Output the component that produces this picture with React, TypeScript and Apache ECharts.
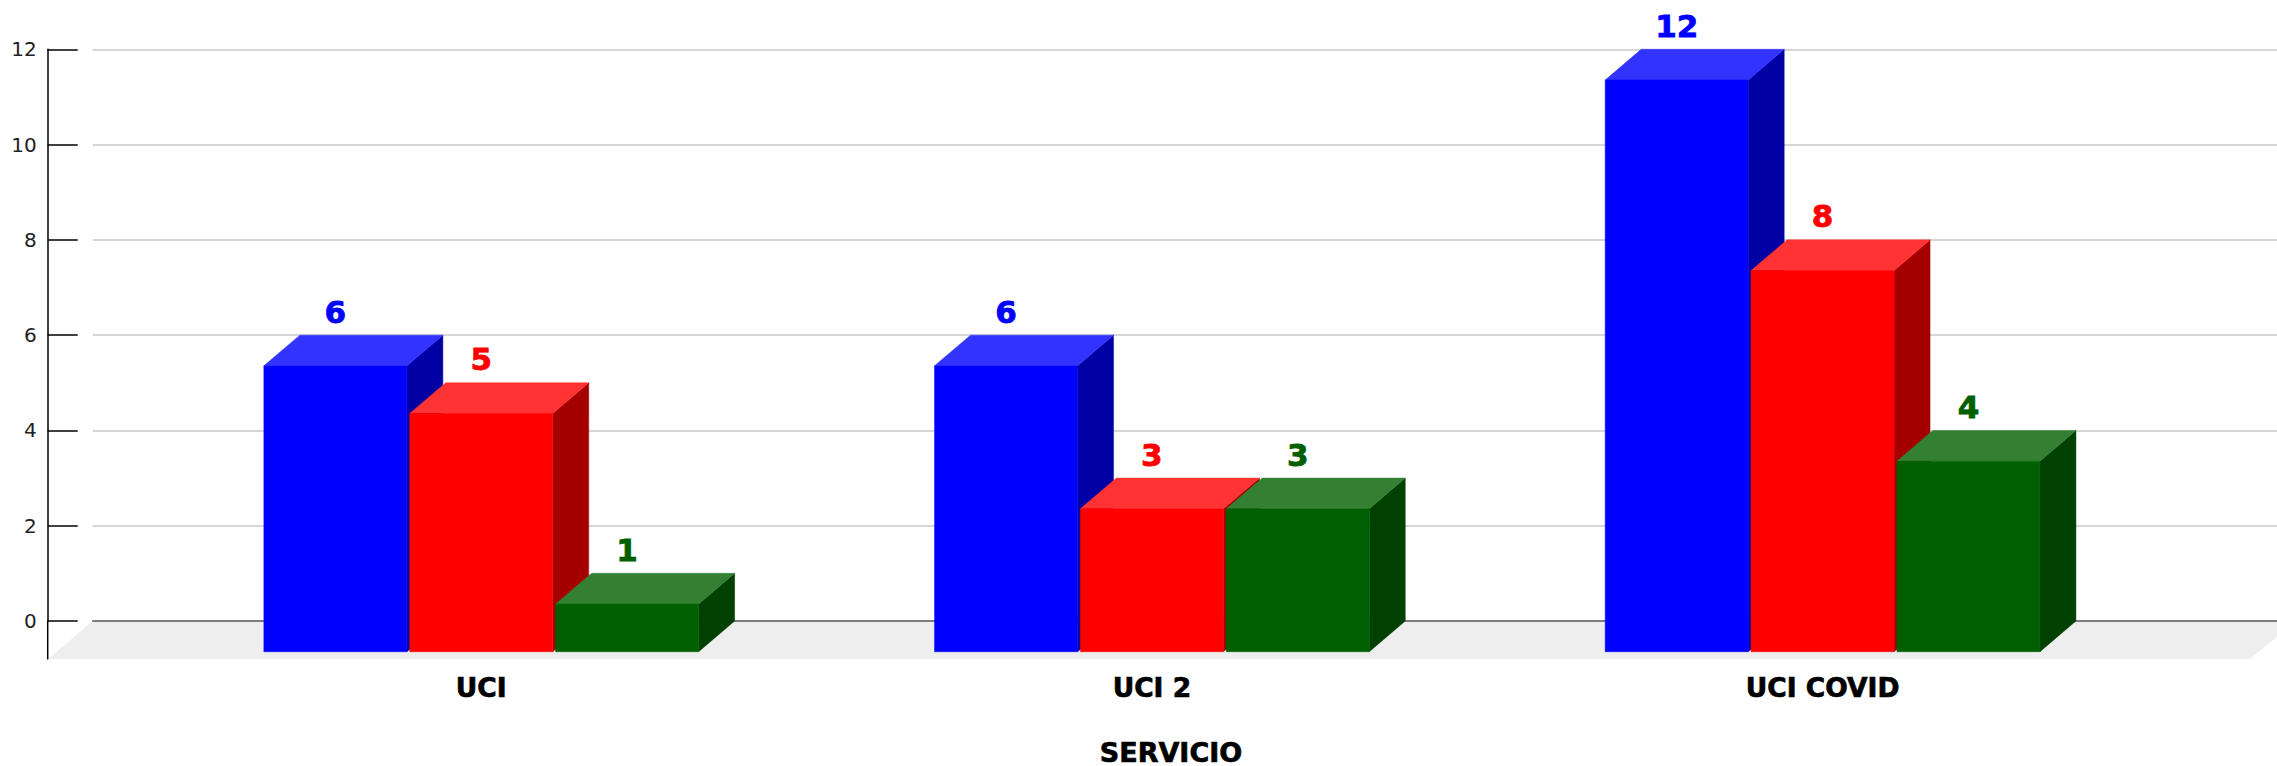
import React, { useEffect, useRef } from "react";
import * as echarts from "echarts";

const categories = ["UCI", "UCI 2", "UCI COVID"];
const blueValues = [6, 6, 12];
const redValues = [5, 3, 8];
const greenValues = [1, 3, 4];
const yMin = 0;
const yMax = 12;
const yInterval = 2;
const axisName = "SERVICIO";

const FONT = "'DejaVu Sans', sans-serif";
const DX = 36;
const DY = 30.7;
const Y0 = 621;
const YTOP = 49.3;

function bar3d(seriesIdx: number, label: string, front: string, top: string, side: string) {
  return (params: any, api: any) => {
    const cat = api.value(0);
    const val = api.value(1);
    const c = api.coord([cat, val]);
    const base = api.coord([cat, 0]);
    const band = api.size([1, 0])[0];
    const step = band * 0.2175;
    const w = band * 0.2132;
    const xL = c[0] + (seriesIdx - 1) * step - w / 2;
    const xR = xL + w;
    const yBack = c[1];
    const yFront = yBack + DY;
    const yBottom = base[1] + DY;
    const flat = (fill: string, points: number[][]) => ({
      type: "polygon",
      shape: { points },
      style: { fill, stroke: fill, lineWidth: 0.5 },
    });
    return {
      type: "group",
      children: [
        flat(side, [[xR, yFront], [xR + DX, yBack], [xR + DX, base[1]], [xR, yBottom]]),
        flat(top, [[xL, yFront], [xL + DX, yBack], [xR + DX, yBack], [xR, yFront]]),
        flat(front, [[xL, yFront], [xR, yFront], [xR, yBottom], [xL, yBottom]]),
        {
          type: "text",
          x: (xL + xR) / 2,
          y: yBack - 8,
          style: {
            text: String(val),
            fill: front,
            stroke: front,
            lineWidth: 0.8,
            font: `bold 31px ${FONT}`,
            textAlign: "center",
            textVerticalAlign: "bottom",
          },
        },
      ],
    };
  };
}

function seriesFor(name: string, idx: number, values: number[], front: string, top: string, side: string) {
  return {
    type: "custom",
    name,
    xAxisIndex: 1,
    yAxisIndex: 1,
    clip: false,
    z: 5,
    encode: { x: 0, y: 1 },
    data: values.map((v, i) => [i, v]),
    renderItem: bar3d(idx, name, front, top, side),
  };
}

export default function App() {
  const ref = useRef<HTMLDivElement>(null);
  useEffect(() => {
    document.body.style.margin = "0";
    const chart = echarts.init(ref.current!, undefined, { renderer: "svg" });
    const gridH = Y0 - YTOP;
    chart.setOption({
      animation: false,
      backgroundColor: "#ffffff",
      grid: [
        { left: 92.7, top: YTOP, width: 2201, height: gridH, containLabel: false },
        { left: 145.9, top: YTOP, width: 2012, height: gridH, containLabel: false },
      ],
      xAxis: [
        {
          gridIndex: 0,
          type: "category",
          data: categories,
          axisLine: { show: true, lineStyle: { color: "#606060", width: 1.5 } },
          axisTick: { show: false },
          axisLabel: { show: false },
          splitLine: { show: false },
          z: 2,
        },
        {
          gridIndex: 1,
          type: "category",
          data: categories,
          axisLine: { show: false },
          axisTick: { show: false },
          axisLabel: {
            show: true,
            color: "#000000",
            fontFamily: FONT,
            fontWeight: "bold",
            fontSize: 26.5,
            textBorderColor: "#000000",
            textBorderWidth: 0.7,
            margin: 53,
          },
          splitLine: { show: false },
        },
      ],
      yAxis: [
        {
          gridIndex: 0,
          type: "value",
          min: yMin,
          max: yMax,
          interval: yInterval,
          offset: 45,
          axisLine: { show: true, lineStyle: { color: "#000000", width: 1.5 } },
          axisTick: { show: true, inside: true, length: 30, lineStyle: { color: "#000000", width: 1.5 } },
          axisLabel: { color: "#222222", fontFamily: FONT, fontSize: 20, margin: 11 },
          splitLine: { show: true, lineStyle: { color: "#c8c8c8", width: 1.5 } },
        },
        {
          gridIndex: 1,
          type: "value",
          min: yMin,
          max: yMax,
          interval: yInterval,
          show: false,
        },
      ],
      title: {
        text: axisName,
        left: 1171,
        top: 741,
        padding: 0,
        textAlign: "center",
        textStyle: {
          color: "#000000",
          fontFamily: FONT,
          fontWeight: "bold",
          fontSize: 27,
          lineHeight: 22,
          textBorderColor: "#000000",
          textBorderWidth: 0.7,
        },
      },
      graphic: [
        {
          type: "polygon",
          z: -1,
          silent: true,
          shape: { points: [[48, 659], [92.7, Y0], [2296, Y0], [2250, 659]] },
          style: { fill: "#eeeeee" },
        },
        {
          type: "line",
          z: 3,
          silent: true,
          shape: { x1: 47.7, y1: Y0, x2: 47.7, y2: 659.5 },
          style: { stroke: "#000000", lineWidth: 1.5 },
        },
      ],
      series: [
        seriesFor("Serie 1", 0, blueValues, "#0000ff", "#3333ff", "#0000a5"),
        seriesFor("Serie 2", 1, redValues, "#ff0000", "#ff3333", "#a50000"),
        seriesFor("Serie 3", 2, greenValues, "#006000", "#338033", "#004000"),
      ],
    });
    return () => chart.dispose();
  }, []);
  return <div ref={ref} style={{ position: "fixed", left: 0, top: 0, width: 2277, height: 766 }} />;
}
